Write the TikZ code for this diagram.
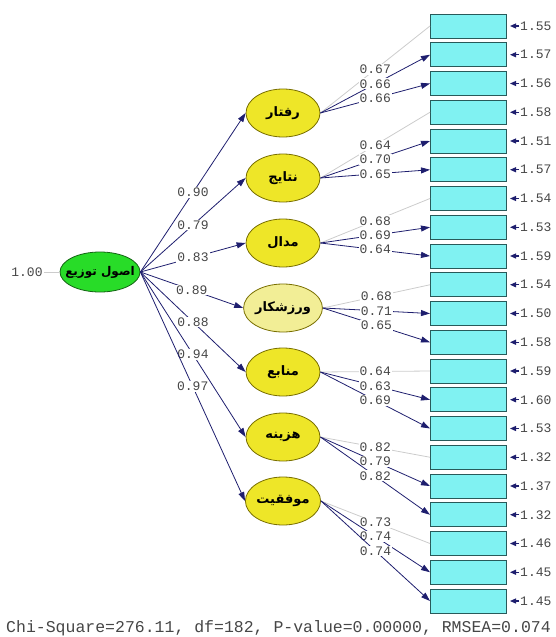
\documentclass[tikz,border=0pt]{standalone}
\usepackage{fontspec}
\setmonofont{Liberation Mono}
\newfontfamily\arabicfont[Script=Arabic]{DejaVu Sans}
\TeXXeTstate=1
\usetikzlibrary{shapes,arrows,arrows.meta}
\usetikzlibrary{calc}
\definecolor{mycyan}{RGB}{128, 242, 242}
\definecolor{boxline}{RGB}{40, 90, 90}
\definecolor{myyellow}{RGB}{238, 230, 40}
\definecolor{paleyellow}{RGB}{242, 238, 150}
\definecolor{ellline}{RGB}{120, 110, 0}
\definecolor{mygreen}{RGB}{40, 220, 40}
\definecolor{greenline}{RGB}{20, 100, 20}
\definecolor{navy}{RGB}{30, 30, 110}
\definecolor{numgray}{RGB}{70, 70, 70}

\begin{document}
\begin{tikzpicture}[x=1pt,y=-1pt]

\tikzstyle{obs} = [draw=boxline, line width=1, fill=mycyan, minimum width=76, minimum height=24, inner sep=0]
\tikzstyle{latent} = [ellipse, draw=ellline, line width=0.8, fill=myyellow, minimum width=74, minimum height=48, inner sep=0,
font=\arabicfont\bfseries\fontsize{13}{13}\selectfont]
\tikzstyle{ksi} = [latent, draw=greenline, fill=mygreen, minimum width=80, minimum height=40, inner xsep=-9,
font=\arabicfont\bfseries\fontsize{12}{12}\selectfont]
\tikzstyle{val} = [font=\ttfamily\fontsize{13}{13}\selectfont, text=numgray, inner sep=1]
\tikzstyle{onpath} = [val, fill=white, pos=0.5]
\tikzstyle{loading} = [draw=navy, line width=0.8, -{Triangle[length=9,width=6]}]
\tikzstyle{fixed} = [draw=black!20, line width=0.8]
\tikzstyle{errarr} = [draw=navy, line width=1.2, -{Triangle[length=6,width=5]}, shorten >=3]

\useasboundingbox (0,0) rectangle (556,637);

% observed variables and error variances
\foreach \v [count=\i] in {1.55,1.57,1.56,1.58,1.51,1.57,1.54,1.53,1.59,1.54,1.50,1.58,1.59,1.60,1.53,1.32,1.37,1.32,1.46,1.45,1.45} {
  \node [obs] (x\i) at (468.5, {26+28.75*(\i-1)}) {};
  \node [val, anchor=west] (e\i) at (519, {26+28.75*(\i-1)}) {\v};
  \draw [errarr] (e\i.west) -- (x\i.east);
}

% latent variables
\node [latent] (l1) at (283,113) {\beginR رفتار\endR};
\node [latent] (l2) at (283,178) {\beginR نتایج\endR};
\node [latent] (l3) at (283,243) {\beginR مدال\endR};
\node [latent, fill=paleyellow] (l4) at (283,308) {\beginR ورزشکار\endR};
\node [latent] (l5) at (283,372) {\beginR منابع\endR};
\node [latent] (l6) at (283,437) {\beginR هزینه\endR};
\node [latent] (l7) at (283,501) {\beginR موفقیت\endR};

\node [ksi] (g) at (100,272) {\beginR اصول توزیع\endR};
\node [val] (gv) at (27,272) {1.00};
\draw [fixed] (gv) -- (g);

\foreach \v [count=\k] in {0.90,0.79,0.83,0.89,0.88,0.94,0.97}
  \draw [loading] (g.east) -- node [onpath] {\v} (l\k.west);

\foreach \v [count=\i] in {0.67,0.66,0.66,0.64,0.70,0.65,0.68,0.69,0.64,0.68,0.71,0.65,0.64,0.63,0.69,0.82,0.79,0.82,0.73,0.74,0.74} {
  \pgfmathtruncatemacro{\k}{(\i+2)/3}
  \pgfmathtruncatemacro{\first}{mod(\i-1,3)}
  \ifnum\first=0
    \draw [fixed] (l\k.east) -- node [onpath] {\v} (x\i.west);
  \else
    \draw [loading] (l\k.east) -- node [onpath] {\v} (x\i.west);
  \fi
}

\node [font=\ttfamily\fontsize{16.5}{16.5}\selectfont, text=numgray, anchor=base west, inner sep=0] (fit) at (6,632)
  {Chi-Square=276.11, df=182, P-value=0.00000, RMSEA=0.074};

%\draw[dashed] (0,0) rectangle (556,637);

\end{tikzpicture}
\end{document}
